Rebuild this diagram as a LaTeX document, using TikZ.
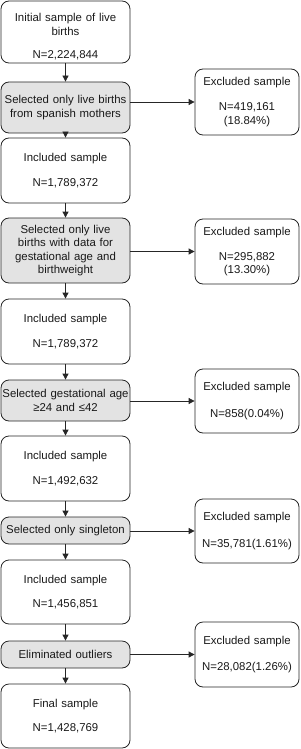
\documentclass[tikz,border=0pt]{standalone}
\usepackage{fontspec}
\setmainfont{Liberation Sans}
\usetikzlibrary{arrows.meta}
\begin{document}
\begin{tikzpicture}[x=1pt,y=-1pt,
  box/.style={draw=black!85, line width=0.8pt, rounded corners=8pt, align=center,
    inner sep=0pt, text=black!90, font=\fontsize{11.4}{13.4}\selectfont},
  lbox/.style={box, minimum width=129pt, text width=127pt},
  rbox/.style={box, minimum width=104pt, text width=102pt},
  gbox/.style={lbox, fill=black!11},
  arr/.style={draw=black!85, line width=0.8pt, -{Triangle[length=6pt,width=6pt]}}
]
\useasboundingbox (0,0) rectangle (300,749);
\node[lbox, minimum height=62pt] (b1) at (65.5,32) {\rule{0pt}{18pt}Initial sample of live\\births\\[10pt]N=2,224,844};
\node[gbox, minimum height=51pt] (g1) at (65.5,107.5) {Selected only live births\\from spanish mothers};
\node[lbox, minimum height=65pt] (b2) at (65.5,170.5) {Included sample\\[11pt]N=1,789,372};
\node[gbox, minimum height=65pt] (g2) at (65.5,250.5) {Selected only live\\births with data for\\gestational age and\\birthweight};
\node[lbox, minimum height=65pt] (b3) at (65.5,331.5) {Included sample\\[11pt]N=1,789,372};
\node[gbox, minimum height=41pt] (g3) at (65.5,400.5) {Selected gestational age\\≥24 and ≤42};
\node[lbox, minimum height=65pt] (b4) at (65.5,468.5) {Included sample\\[11pt]N=1,492,632};
\node[gbox, minimum height=27pt] (g4) at (65.5,530.5) {Selected only singleton};
\node[lbox, minimum height=64pt] (b5) at (65.5,592) {Included sample\\[11pt]N=1,456,851};
\node[gbox, minimum height=27pt] (g5) at (65.5,654.5) {Eliminated outliers};
\node[lbox, minimum height=64pt] (b6) at (65.5,716) {Final sample\\[11pt]N=1,428,769};

\node[rbox, minimum height=66pt] (r1) at (247,102) {Excluded sample\\[12pt]N=419,161\\(18.84\%)};
\node[rbox, minimum height=65pt] (r2) at (247,251.5) {Excluded sample\\[12pt]N=295,882\\(13.30\%)};
\node[rbox, minimum height=64pt] (r3) at (247,401) {Excluded sample\\[13pt]N=858(0.04\%)};
\node[rbox, minimum height=64pt] (r4) at (247,531) {Excluded sample\\[13pt]N=35,781(1.61\%)};
\node[rbox, minimum height=65pt] (r5) at (247,654.5) {Excluded sample\\[13pt]N=28,082(1.26\%)};

\foreach \a/\b in {b1/g1,g1/b2,b2/g2,g2/b3,b3/g3,g3/b4,b4/g4,g4/b5,b5/g5,g5/b6}
  \draw[arr] (\a.south) -- (\b.north);
\foreach \a/\b in {g1/r1,g2/r2,g3/r3,g4/r4,g5/r5}
  \draw[arr] (\a.east |- \b.west) -- (\b.west);
\end{tikzpicture}
\end{document}
